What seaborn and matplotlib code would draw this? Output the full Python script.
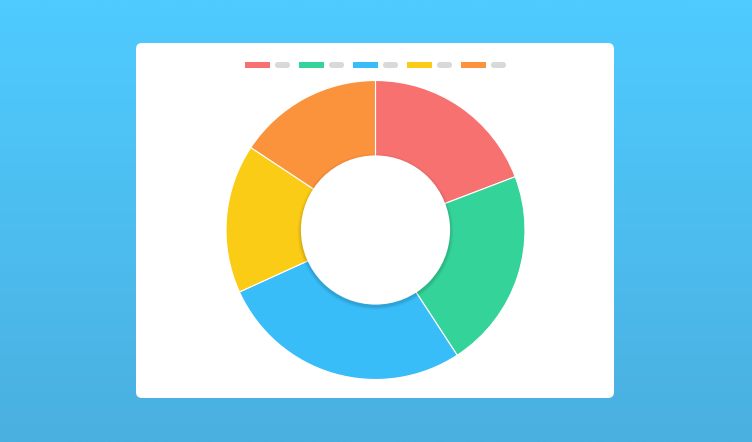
import numpy as np
import matplotlib
matplotlib.use("Agg")
import matplotlib.pyplot as plt
from matplotlib.colors import LinearSegmentedColormap
from matplotlib.patches import FancyBboxPatch, Circle
import seaborn as sns

# data (share of the ring, clockwise from 12 o'clock)
labels = ["A", "B", "C", "D", "E"]
values = [19.2, 21.6, 27.4, 16.1, 15.7]
colors = ["#F87171", "#34D399", "#38BDF8", "#FACC15", "#FB923C"]

sns.set_theme(style="white")
plt.rcParams["font.family"] = ["DejaVu Sans"]

W, H = 752, 442
fig = plt.figure(figsize=(W / 100, H / 100), dpi=100)

# gradient page background
bg = fig.add_axes([0, 0, 1, 1])
bg.set_axis_off()
grad = LinearSegmentedColormap.from_list("bg", ["#4FCBFF", "#4AB0E0"])
bg.imshow(np.linspace(0, 1, 256).reshape(-1, 1), aspect="auto", cmap=grad,
          extent=[0, W, H, 0])
bg.set_xlim(0, W)
bg.set_ylim(H, 0)

# white card
card = FancyBboxPatch((136, 43), 478, 355,
                      boxstyle="round,pad=0,rounding_size=6", fc="white", ec="none")
bg.add_patch(card)

# legend: colored bar + gray placeholder pill per series
x0 = 245
for i, c in enumerate(colors):
    x = x0 + i * 54
    bg.add_patch(plt.Rectangle((x, 62), 25, 6, fc=c, ec="none"))
    bg.add_patch(FancyBboxPatch((x + 30, 62), 15, 6,
                                boxstyle="round,pad=0,rounding_size=2.8",
                                fc="#D9D9D9", ec="none"))

# donut
cx, cy, r = 375.5, 230, 149.5
ax = fig.add_axes([(cx - r) / W, 1 - (cy + r) / H, 2 * r / W, 2 * r / H])
ax.set_axis_off()
ax.pie(values, colors=colors, startangle=90, counterclock=False, radius=1.0,
       wedgeprops=dict(width=1.0, edgecolor="white", linewidth=0.8))

# soft shadow under the hole
for k, a in enumerate(np.linspace(0.05, 0.015, 4)):
    ax.add_patch(Circle((0, -0.012), 0.5 + 0.006 * (k + 1), fc="black",
                        alpha=a, ec="none", zorder=3))
ax.add_patch(Circle((0, 0), 0.499, fc="white", ec="none", zorder=4))
ax.set_xlim(-1, 1)
ax.set_ylim(-1, 1)
ax.set_aspect("equal")

fig.savefig("out.png", dpi=100)
